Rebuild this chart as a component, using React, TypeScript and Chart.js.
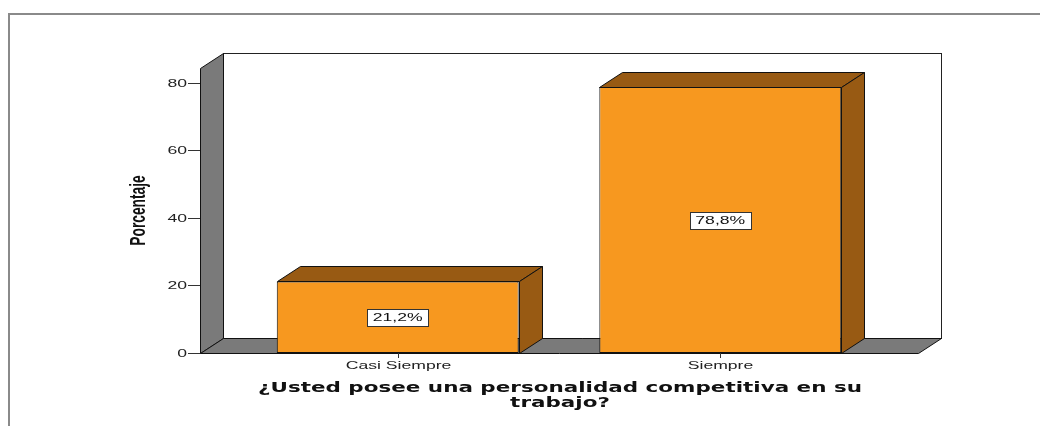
import React, { useEffect, useRef } from "react";
import { Chart, registerables } from "chart.js";

Chart.register(...registerables);

// ---- data ----
const categories = ["Casi Siempre", "Siempre"];
const percentages = [21.2, 78.8];
const yTickValues = [0, 20, 40, 60, 80];
const xAxisTitleLines = ["¿Usted posee una personalidad competitiva en su", "trabajo?"];
const yAxisTitle = "Porcentaje";

// ---- style ----
const DX = 23;
const DY = 15;
const ORANGE = "#F7981F";
const BROWN = "#985A13";
const WALL = "#7A7A7A";
const EDGE = "#111111";
const TEXT = "#222222";

function poly(ctx: CanvasRenderingContext2D, pts: number[][], fill: string, stroke: string) {
  ctx.beginPath();
  ctx.moveTo(pts[0][0], pts[0][1]);
  for (let i = 1; i < pts.length; i++) ctx.lineTo(pts[i][0], pts[i][1]);
  ctx.closePath();
  ctx.fillStyle = fill;
  ctx.fill();
  ctx.lineWidth = 1;
  ctx.strokeStyle = stroke;
  ctx.stroke();
}

function stretched(
  ctx: CanvasRenderingContext2D,
  text: string,
  x: number,
  y: number,
  font: string,
  sx: number,
  align: CanvasTextAlign,
  color: string
) {
  ctx.save();
  ctx.font = font;
  ctx.fillStyle = color;
  ctx.textBaseline = "middle";
  ctx.textAlign = align;
  ctx.translate(x, y);
  ctx.scale(sx, 1);
  ctx.fillText(text, 0, 0);
  ctx.restore();
}

const TICK_FONT = '11px "Liberation Sans", Arial, sans-serif';
const TICK_SX = 1.6;

const spssPlugin = {
  id: "spss3d",
  beforeDatasetsDraw(chart: any) {
    const ctx: CanvasRenderingContext2D = chart.ctx;
    const { left, right, top, bottom } = chart.chartArea;
    const yScale = chart.scales.y;

    // outer frame
    ctx.save();
    ctx.strokeStyle = "#8a8a8a";
    ctx.lineWidth = 2;
    ctx.beginPath();
    ctx.moveTo(9, chart.height);
    ctx.lineTo(9, 14);
    ctx.lineTo(chart.width, 14);
    ctx.stroke();
    ctx.restore();

    // back wall
    ctx.save();
    ctx.fillStyle = "#ffffff";
    ctx.fillRect(left + DX, top - DY, right - left, bottom - top);
    ctx.strokeStyle = "#222";
    ctx.lineWidth = 1;
    ctx.strokeRect(left + DX + 0.5, top - DY + 0.5, right - left, bottom - top);
    // left wall
    poly(ctx, [[left + 0.5, bottom + 0.5], [left + 0.5, top + 0.5], [left + DX + 0.5, top - DY + 0.5], [left + DX + 0.5, bottom - DY + 0.5]], WALL, EDGE);
    // floor
    poly(ctx, [[left + 0.5, bottom + 0.5], [right + 0.5, bottom + 0.5], [right + DX + 0.5, bottom - DY + 0.5], [left + DX + 0.5, bottom - DY + 0.5]], WALL, EDGE);

    // y ticks
    ctx.strokeStyle = "#333";
    ctx.lineWidth = 1;
    for (const v of yTickValues) {
      const y = Math.round(yScale.getPixelForValue(v)) + 0.5;
      ctx.beginPath();
      ctx.moveTo(left - 12, y);
      ctx.lineTo(left, y);
      ctx.stroke();
      stretched(ctx, String(v), left - 13, y, TICK_FONT, TICK_SX, "right", TEXT);
    }
    ctx.restore();
  },
  afterDatasetsDraw(chart: any) {
    const ctx: CanvasRenderingContext2D = chart.ctx;
    const { left, right, top, bottom } = chart.chartArea;
    const xScale = chart.scales.x;
    const yScale = chart.scales.y;
    const meta = chart.getDatasetMeta(0);

    ctx.save();
    meta.data.forEach((el: any, i: number) => {
      const { x, y, base, width } = el.getProps(["x", "y", "base", "width"], true);
      const x0 = Math.round(x - width / 2) + 0.5;
      const x1 = Math.round(x + width / 2) + 0.5;
      const yt = Math.round(y) + 0.5;
      const yb = Math.round(base) + 0.5;
      // top face
      poly(ctx, [[x0, yt], [x1, yt], [x1 + DX, yt - DY], [x0 + DX, yt - DY]], BROWN, EDGE);
      // side face
      poly(ctx, [[x1, yt], [x1 + DX, yt - DY], [x1 + DX, yb - DY], [x1, yb]], BROWN, EDGE);

      // value label box
      const v = percentages[i];
      const label = v.toFixed(1).replace(".", ",") + "%";
      const cy = Math.round(yScale.getPixelForValue(v / 2));
      const bw = 61;
      const bh = 17;
      const bx = Math.round(x - bw / 2) + 0.5;
      const by = Math.round(cy - bh / 2) + 0.5;
      ctx.fillStyle = "#ffffff";
      ctx.fillRect(bx, by, bw, bh);
      ctx.strokeStyle = "#333";
      ctx.lineWidth = 1;
      ctx.strokeRect(bx, by, bw, bh);
      stretched(ctx, label, x, cy + 0.5, TICK_FONT, TICK_SX, "center", "#111");
    });

    // x ticks and labels
    categories.forEach((c, i) => {
      const px = Math.round(xScale.getPixelForValue(i)) + 0.5;
      ctx.strokeStyle = "#333";
      ctx.beginPath();
      ctx.moveTo(px, bottom);
      ctx.lineTo(px, bottom + 5);
      ctx.stroke();
      stretched(ctx, c, px, bottom + 13, TICK_FONT, TICK_SX, "center", TEXT);
    });

    // x axis title
    const titleFont = 'bold 14px "DejaVu Sans", Verdana, sans-serif';
    ctx.font = titleFont;
    const w0 = ctx.measureText(xAxisTitleLines[0]).width;
    const sx = 604 / w0;
    const cx = (left + right) / 2 + 1;
    xAxisTitleLines.forEach((line, k) => {
      stretched(ctx, line, cx, bottom + 35 + k * 15, titleFont, sx, "center", "#111");
    });

    // y axis title
    ctx.save();
    ctx.translate(left - 61, (top + bottom) / 2);
    ctx.rotate(-Math.PI / 2);
    ctx.scale(0.86, 1.4);
    ctx.font = 'bold 16px "Liberation Sans", Arial, sans-serif';
    ctx.fillStyle = "#111";
    ctx.textAlign = "center";
    ctx.textBaseline = "middle";
    ctx.fillText(yAxisTitle, 0, 0);
    ctx.restore();

    ctx.restore();
  },
};

export default function App() {
  const ref = useRef<HTMLCanvasElement | null>(null);

  useEffect(() => {
    if (!ref.current) return;
    const chart = new Chart(ref.current, {
      type: "bar",
      data: {
        datasets: [
          {
            label: "Porcentaje",
            data: percentages.map((v, i) => ({ x: i, y: v })),
            backgroundColor: ORANGE,
            borderColor: EDGE,
            borderWidth: 1,
            borderSkipped: false,
            barPercentage: 0.75,
            categoryPercentage: 1,
          },
        ],
      },
      options: {
        animation: false,
        responsive: false,
        devicePixelRatio: 1,
        layout: { padding: { left: 200, right: 122, top: 68, bottom: 73 } },
        plugins: { legend: { display: false }, tooltip: { enabled: false }, title: { display: false } },
        scales: {
          x: {
            type: "linear",
            min: -0.613,
            max: 1.613,
            display: false,
            offset: false,
            ticks: { stepSize: 1, includeBounds: false },
          },
          y: { type: "linear", min: 0, max: 84.4, display: false },
        },
      },
      plugins: [spssPlugin],
    } as any);
    return () => chart.destroy();
  }, []);

  return (
    <div style={{ position: "fixed", left: 0, top: 0, width: 1040, height: 426, background: "#fff" }}>
      <canvas ref={ref} width={1040} height={426} style={{ width: 1040, height: 426, display: "block" }} />
    </div>
  );
}
